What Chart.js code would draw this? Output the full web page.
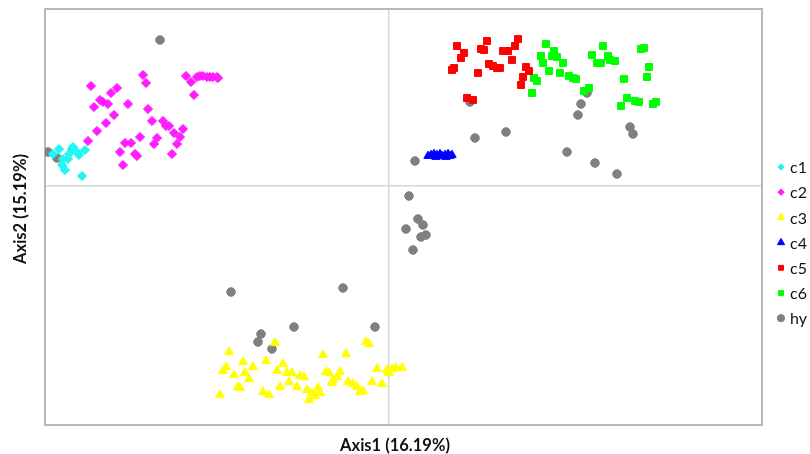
<!DOCTYPE html>
<html>
<head>
<meta charset="utf-8">
<script src="https://cdn.jsdelivr.net/npm/chart.js@4.4.1/dist/chart.umd.min.js"></script>
<style>
  html, body { margin: 0; padding: 0; background: #fff; }
</style>
</head>
<body>
<canvas id="pcoa" width="810" height="454"></canvas>
<script>
// === DATA (ordination scores) ===
const groups = ['c1', 'c2', 'c3', 'c4', 'c5', 'c6', 'hy'];
const axisTitles = ['Axis1 (16.19%)', 'Axis2 (15.19%)'];

const c1X = [-3.30, -3.36, -3.26, -3.27, -3.24, -3.17, -3.16, -3.20, -3.12, -3.10, -3.04, -3.21, -3.07];
const c1Y = [0.37, 0.32, 0.27, 0.21, 0.16, 0.37, 0.39, 0.32, 0.34, 0.31, 0.36, 0.27, 0.10];

const c2X = [-2.98, -2.46, -2.43, -2.72, -2.78, -2.89, -2.86, -2.81, -2.95, -2.61, -2.75, -2.83, -2.92, -3.01,
  -2.41, -2.37, -2.26, -2.23, -2.20, -2.06, -2.15, -2.09, -2.12, -2.17, -2.49, -2.32, -2.35, -2.64, -2.58,
  -2.69, -2.54, -2.52, -2.66, -2.03, -1.98, -1.95, -1.92, -1.89, -1.86, -1.82, -1.79, -1.76, -1.72, -1.71];
const c2Y = [1.00, 1.11, 1.03, 0.98, 0.93, 0.86, 0.84, 0.82, 0.79, 0.82, 0.71, 0.63, 0.55, 0.45,
  0.77, 0.65, 0.65, 0.60, 0.60, 0.57, 0.53, 0.49, 0.42, 0.32, 0.49, 0.48, 0.42, 0.43, 0.43,
  0.34, 0.32, 0.30, 0.21, 1.10, 1.04, 0.91, 1.09, 1.10, 1.10, 1.09, 1.09, 1.09, 1.09, 1.08];

const c3X = [-1.60, -1.14, -0.23, -0.20, -0.66, -0.43, -1.46, -1.23, -1.63, -1.66, -1.36, -1.06, -1.55, -1.44,
  -1.40, -1.12, -1.02, -0.97, -0.89, -0.85, -0.63, -0.60, -0.49, -0.52, -0.56, -0.57, -0.12, -0.02, 0.03,
  0.07, 0.13, 0.00, -1.51, -1.49, -1.69, -1.26, -1.20, -1.09, -1.00, -0.92, -0.82, -0.77, -0.80, -0.74,
  -0.71, -0.69, -0.41, -0.36, -0.32, -0.29, -0.26, -0.17, -0.07];
const c3Y = [-1.66, -1.57, -1.56, -1.58, -1.69, -1.68, -1.76, -1.75, -1.81, -1.85, -1.81, -1.78, -1.89, -1.87,
  -1.93, -1.85, -1.87, -1.87, -1.90, -1.91, -1.86, -1.87, -1.86, -1.91, -1.94, -1.97, -1.83, -1.84, -1.83,
  -1.82, -1.82, -1.87, -2.01, -2.02, -2.09, -2.06, -2.09, -2.01, -1.96, -2.01, -2.04, -2.07, -2.14, -2.10,
  -2.02, -2.07, -1.96, -1.98, -2.01, -2.06, -2.05, -1.96, -1.98];

const c4X = [0.39, 0.42, 0.45, 0.48, 0.51, 0.53, 0.56, 0.59, 0.61, 0.63, 0.47, 0.57];
const c4Y = [0.30, 0.31, 0.32, 0.31, 0.32, 0.30, 0.31, 0.32, 0.30, 0.31, 0.29, 0.29];

const c5X = [0.68, 0.75, 0.72, 0.65, 0.63, 0.98, 0.92, 0.95, 0.89, 1.00, 1.04, 1.08, 1.11, 1.14, 1.19, 1.26,
  1.29, 1.23, 1.37, 1.40, 1.34, 1.32, 0.78, 0.84];
const c5Y = [1.40, 1.33, 1.28, 1.18, 1.16, 1.45, 1.37, 1.36, 1.13, 1.22, 1.20, 1.18, 1.18, 1.35, 1.35, 1.40,
  1.47, 1.26, 1.19, 1.15, 1.09, 1.01, 0.88, 0.86];

const c6X = [1.57, 1.65, 1.52, 1.63, 1.68, 1.54, 1.74, 1.60, 1.71, 1.80, 1.84, 1.87, 1.45, 1.48, 1.43, 2.00,
  1.95, 2.14, 2.03, 2.08, 2.12, 2.19, 2.21, 2.26, 2.52, 2.55, 2.60, 2.58, 2.35, 2.38, 2.32, 2.46, 2.50,
  2.64, 2.67];
const c6Y = [1.42, 1.35, 1.30, 1.30, 1.29, 1.23, 1.23, 1.15, 1.13, 1.10, 1.08, 1.07, 1.08, 1.05, 0.93, 0.98,
  0.95, 1.40, 1.31, 1.23, 1.23, 1.30, 1.26, 1.25, 1.37, 1.38, 1.19, 1.09, 1.07, 0.88, 0.80, 0.85, 0.84,
  0.82, 0.84];

const hyX = [-2.29, -3.41, -3.32, 1.98, 1.92, 1.89, 0.81, 0.86, 1.17, 1.78, 2.06, 2.28, 2.41, 2.44, 0.26,
  0.20, 0.29, 0.34, 0.17, 0.32, 0.37, 0.24, -1.58, -0.46, -0.95, -0.14, -1.28, -1.31, -1.17];
const hyY = [1.46, 0.34, 0.28, 0.93, 0.82, 0.71, 0.84, 0.48, 0.54, 0.34, 0.23, 0.12, 0.59, 0.52, 0.25,
  -0.10, -0.33, -0.39, -0.43, -0.51, -0.49, -0.64, -1.06, -1.02, -1.41, -1.41, -1.48, -1.56, -1.63];

const xsAll = [c1X, c2X, c3X, c4X, c5X, c6X, hyX];
const ysAll = [c1Y, c2Y, c3Y, c4Y, c5Y, c6Y, hyY];

// === STYLE PER GROUP ===
const colors = ['#22f5f5', '#ff1cff', '#ffff00', '#0000ff', '#ff0000', '#00ff00', '#808080'];
const shapes = ['rectRot', 'rectRot', 'triangle', 'triangle', 'rect', 'rect', 'circle'];
const sizes = [4.6, 4.6, 5.2, 4.8, 4.9, 4.9, 4.3];
const legendSizes = [3.2, 3.2, 4.2, 4.2, 3.5, 3.5, 3.6];

function toPoints(xs, ys) {
  return xs.map((x, i) => ({ x: x, y: ys[i] }));
}

const datasets = groups.map((g, i) => ({
  label: g,
  data: toPoints(xsAll[i], ysAll[i]),
  pointStyle: shapes[i],
  pointRadius: sizes[i],
  backgroundColor: colors[i],
  borderColor: colors[i],
  borderWidth: 1,
  legendRadius: legendSizes[i]
}));

// kotak bingkai plot
const framePlugin = {
  id: 'frame',
  beforeDatasetsDraw(chart) {
    const a = chart.chartArea, ctx = chart.ctx;
    ctx.save();
    ctx.strokeStyle = '#b8b8b8';
    ctx.lineWidth = 2;
    ctx.strokeRect(a.left, a.top, a.right - a.left, a.bottom - a.top);
    ctx.restore();
  }
};

// legenda di kanan + judul sumbu
const sideTextPlugin = {
  id: 'sideText',
  afterDraw(chart) {
    const ctx = chart.ctx;
    ctx.save();
    chart.data.datasets.forEach((ds, i) => {
      const y = 167 + i * 25.2;
      ctx.fillStyle = ds.backgroundColor;
      ctx.strokeStyle = ds.borderColor;
      ctx.lineWidth = 1;
      Chart.helpers.drawPoint(ctx, { pointStyle: ds.pointStyle, radius: ds.legendRadius, borderWidth: 1, rotation: 0 }, 781, y);
      ctx.fillStyle = '#111';
      ctx.font = '16px Lato';
      ctx.textAlign = 'left';
      ctx.textBaseline = 'middle';
      ctx.fillText(ds.label, 790, y + 1);
    });

    ctx.fillStyle = '#111';
    ctx.font = 'bold 16.5px Lato';
    ctx.textAlign = 'center';
    ctx.textBaseline = 'middle';
    ctx.fillText(axisTitles[0], 395, 446);
    ctx.translate(21, 209);
    ctx.rotate(-Math.PI / 2);
    ctx.fillText(axisTitles[1], 0, 0);
    ctx.restore();
  }
};

const zeroGrid = {
  drawTicks: false,
  lineWidth: 1.5,
  color: c => (c.tick && c.tick.value === 0 ? '#d6d6d6' : 'rgba(0,0,0,0)')
};

new Chart(document.getElementById('pcoa'), {
  type: 'scatter',
  data: { datasets: datasets },
  options: {
    responsive: false,
    animation: false,
    layout: { padding: { left: 45, top: 9, right: 48, bottom: 29 } },
    plugins: { legend: { display: false }, tooltip: { enabled: false } },
    scales: {
      x: {
        min: -3.44, max: 3.73,
        ticks: { display: false, stepSize: 1 },
        grid: zeroGrid,
        border: { display: false }
      },
      y: {
        min: -2.39, max: 1.77,
        ticks: { display: false, stepSize: 1 },
        grid: zeroGrid,
        border: { display: false }
      }
    }
  },
  plugins: [framePlugin, sideTextPlugin]
});
</script>
</body>
</html>
